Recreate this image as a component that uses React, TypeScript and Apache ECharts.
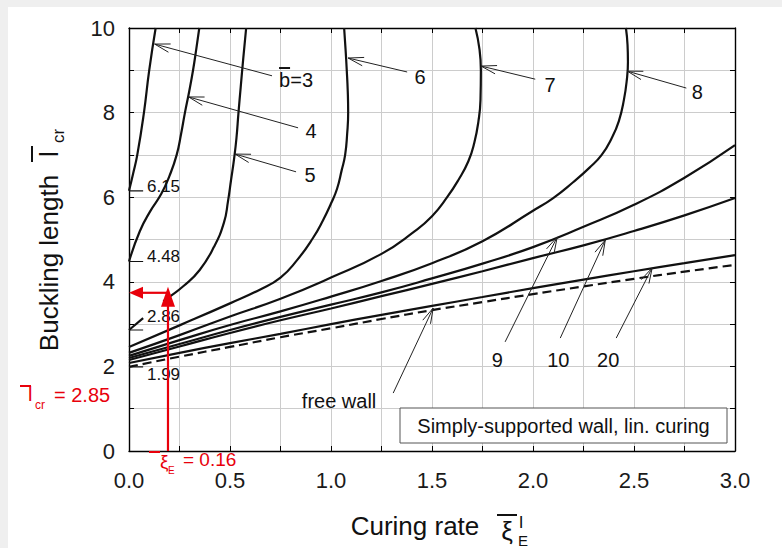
import React, { useEffect, useRef } from 'react';
import * as echarts from 'echarts';

const FONT = 'Arial, "Liberation Sans", Helvetica, sans-serif';

// x grid shared by the lower family of curves
const xLower = [0, 0.25, 0.5, 0.75, 1.0, 1.25, 1.5, 1.75, 2.0, 2.25, 2.5, 2.75, 3.0];
const yB9 = [2.2, 2.53, 2.86, 3.17, 3.46, 3.75, 4.08, 4.43, 4.82, 5.3, 5.82, 6.46, 7.23];
const yB10 = [2.15, 2.47, 2.79, 3.09, 3.37, 3.66, 3.95, 4.25, 4.56, 4.86, 5.2, 5.57, 5.98];
const yB20 = [2.08, 2.32, 2.55, 2.77, 3.0, 3.22, 3.43, 3.64, 3.85, 4.05, 4.25, 4.44, 4.63];
const yFree = [1.99, 2.23, 2.46, 2.69, 2.9, 3.12, 3.33, 3.52, 3.71, 3.89, 4.07, 4.24, 4.4];

// steep curves (x, y pairs)
const b3X = [0, 0.02, 0.041, 0.074, 0.1, 0.132];
const b3Y = [6.15, 6.55, 7.0, 8.0, 9.0, 10.0];
const b4X = [0, 0.054, 0.104, 0.16, 0.2, 0.236, 0.258, 0.277, 0.298, 0.317, 0.333, 0.348];
const b4Y = [4.48, 5.2, 5.66, 6.08, 6.5, 7.0, 7.5, 8.0, 8.5, 9.0, 9.5, 10.0];
const b5aX = [0, 0.07];
const b5aY = [2.86, 3.14];
const b5bX = [0.17, 0.193, 0.27, 0.35, 0.42, 0.47, 0.49, 0.505, 0.52, 0.532, 0.542, 0.553, 0.566, 0.58];
const b5bY = [3.54, 3.62, 3.9, 4.28, 4.82, 5.4, 5.9, 6.4, 6.9, 7.4, 8.0, 8.6, 9.3, 10.0];
const b6X = [0, 0.25, 0.5, 0.65, 0.75, 0.83, 0.91, 0.96, 1.0, 1.03, 1.053, 1.07, 1.08, 1.085, 1.083, 1.078, 1.072, 1.065];
const b6Y = [2.46, 2.97, 3.49, 3.82, 4.1, 4.5, 5.03, 5.45, 5.85, 6.2, 6.64, 7.0, 7.5, 8.0, 8.5, 9.0, 9.5, 10.0];
const b7X = [0, 0.25, 0.5, 0.75, 1.0, 1.25, 1.41, 1.5, 1.575, 1.63, 1.68, 1.71, 1.73, 1.74, 1.742, 1.735, 1.715];
const b7Y = [2.32, 2.74, 3.18, 3.6, 4.1, 4.66, 5.18, 5.55, 6.0, 6.4, 6.85, 7.3, 7.8, 8.3, 9.0, 9.5, 10.0];
const b8X = [0, 0.25, 0.5, 0.75, 1.0, 1.25, 1.5, 1.75, 2.0, 2.1, 2.2, 2.28, 2.34, 2.39, 2.425, 2.45, 2.465, 2.47, 2.468, 2.46];
const b8Y = [2.25, 2.62, 2.98, 3.3, 3.65, 4.02, 4.44, 4.96, 5.68, 5.98, 6.36, 6.7, 7.0, 7.4, 7.8, 8.3, 8.8, 9.2, 9.6, 10.0];

// tick labels
const xTickLabels = ['0.0', '0.5', '1.0', '1.5', '2.0', '2.5', '3.0'];
const yTickLabels = ['0', '2', '4', '6', '8', '10'];

// start values marked at x = 0
const startValues = [6.15, 4.48, 2.86, 1.99];
const startLabelY = [6.25, 4.59, 3.17, 1.8];

// read-off example (red)
const markXi = 0.193;
const markL = 3.74;
const markXiText = '0.16';
const markLText = '2.85';

// annotation arrows (data coords)
const annotLabels = ['b=3', '4', '5', '6', '7', '8', '9', '10', '20', 'free wall'];
const annotTips = [[0.127, 9.62], [0.295, 8.37], [0.525, 7.02], [1.085, 9.29], [1.743, 9.1], [2.467, 8.98], [2.12, 5.06], [2.358, 4.99], [2.59, 4.33], [1.506, 3.38]];
const annotTails = [[0.708, 8.87], [0.837, 7.64], [0.827, 6.6], [1.377, 8.96], [2.011, 8.79], [2.759, 8.58], [1.862, 2.58], [2.135, 2.67], [2.412, 2.67], [1.308, 1.37]];
const annotPos = [[0.827, 8.77], [0.901, 7.565], [0.896, 6.525], [1.441, 8.84], [2.085, 8.65], [2.813, 8.49], [1.823, 2.15], [2.125, 2.15], [2.372, 2.15], [1.04, 1.18]];

const zip = (xs: number[], ys: number[]) => xs.map((x, i) => [x, ys[i]]);

const curves = [
  { data: zip(b3X, b3Y) },
  { data: zip(b4X, b4Y) },
  { data: zip(b5aX, b5aY) },
  { data: zip(b5bX, b5bY) },
  { data: zip(b6X, b6Y) },
  { data: zip(b7X, b7Y) },
  { data: zip(b8X, b8Y) },
  { data: zip(xLower, yB9) },
  { data: zip(xLower, yB10) },
  { data: zip(xLower, yB20) },
  { data: zip(xLower, yFree), dashed: true },
];

const isHalf = (v: number) => Math.abs(v * 2 - Math.round(v * 2)) < 1e-6;

export default function App() {
  const ref = useRef<HTMLDivElement>(null);
  useEffect(() => {
    document.body.style.margin = '0';
    const chart = echarts.init(ref.current!, null, { renderer: 'svg' });
    const axisLine = { show: true, onZero: false, lineStyle: { color: '#000', width: 1.4 } };
    const tick = { show: true, inside: true, length: 5, lineStyle: { color: '#000', width: 1 } };
    const option: any = {
      animation: false,
      backgroundColor: '#ffffff',
      grid: { left: 129, top: 28, width: 606, height: 423, containLabel: false },
      xAxis: [
        {
          type: 'value', min: 0, max: 3, interval: 0.25, position: 'bottom',
          axisLine, axisTick: tick,
          axisLabel: {
            margin: 18, fontSize: 22, color: '#1a1a1a', fontFamily: FONT,
            formatter: (v: number) => (isHalf(v) ? xTickLabels[Math.round(v * 2)] : ''),
          },
          splitLine: { show: true, lineStyle: { color: '#cccccc', width: 1 } },
        },
        {
          type: 'value', min: 0, max: 3, interval: 0.25, position: 'top',
          axisLine, axisTick: tick, axisLabel: { show: false }, splitLine: { show: false },
        },
      ],
      yAxis: [
        {
          type: 'value', min: 0, max: 10, interval: 1, position: 'left',
          axisLine, axisTick: tick,
          axisLabel: {
            margin: 14, fontSize: 22, color: '#1a1a1a', fontFamily: FONT,
            formatter: (v: number) => (Math.round(v) % 2 === 0 ? yTickLabels[Math.round(v) / 2] : ''),
          },
          splitLine: { show: true, lineStyle: { color: '#cccccc', width: 1 } },
        },
        {
          type: 'value', min: 0, max: 10, interval: 1, position: 'right',
          axisLine, axisTick: tick, axisLabel: { show: false }, splitLine: { show: false },
        },
      ],
      series: [
        ...curves.map((c) => ({
          type: 'line',
          data: c.data,
          symbol: 'none',
          smooth: 0.5,
          silent: true,
          z: 3,
          lineStyle: { color: '#111', width: 2.2, type: c.dashed ? [9, 5] : 'solid' },
        })),
        ...startValues.map((v) => ({
          type: 'line',
          data: [[0, v], [0.07, v]],
          symbol: 'none',
          silent: true,
          z: 3,
          lineStyle: { color: '#111', width: 1.2 },
        })),
      ],
    };
    chart.setOption(option);

    const P = (p: number[]) => chart.convertToPixel({ xAxisIndex: 0, yAxisIndex: 0 }, p) as number[];
    const g: any[] = [];
    const txt = (x: number, y: number, text: string, size: number, extra: any = {}) => ({
      type: 'text', x, y, z: 20,
      rotation: extra.rotation || 0,
      style: {
        text, fontSize: size, fontFamily: FONT, fill: extra.fill || '#111',
        align: extra.align || 'center', verticalAlign: extra.va || 'middle',
        textAlign: extra.align || 'center', textVerticalAlign: extra.va || 'middle',
      },
    });
    const ln = (x1: number, y1: number, x2: number, y2: number, stroke: string, w: number) => ({
      type: 'line', z: 20, shape: { x1, y1, x2, y2 }, style: { stroke, lineWidth: w },
    });

    // outer gray frame bands
    g.push({ type: 'rect', z: -10, shape: { x: 0, y: 0, width: 782, height: 7 }, style: { fill: '#efefef' } });
    g.push({ type: 'rect', z: -10, shape: { x: 0, y: 0, width: 8, height: 548 }, style: { fill: '#efefef' } });

    // annotation arrows
    annotLabels.forEach((label, i) => {
      const tip = P(annotTips[i]);
      const tail = P(annotTails[i]);
      const dx = tail[0] - tip[0];
      const dy = tail[1] - tip[1];
      const L = Math.hypot(dx, dy);
      const ux = dx / L;
      const uy = dy / L;
      const wing = (a: number) => [tip[0] + 16 * (ux * Math.cos(a) - uy * Math.sin(a)), tip[1] + 16 * (ux * Math.sin(a) + uy * Math.cos(a))];
      g.push(ln(tip[0], tip[1], tail[0], tail[1], '#222', 1));
      g.push({ type: 'polyline', z: 20, shape: { points: [wing(0.27), [tip[0], tip[1]], wing(-0.27)] }, style: { stroke: '#222', lineWidth: 1, fill: null } });
      const lp = P(annotPos[i]);
      g.push(txt(lp[0], lp[1], label, 20));
      if (label === 'b=3') {
        g.push(ln(lp[0] - 17, lp[1] - 12, lp[0] - 6, lp[1] - 12, '#111', 2));
      }
    });

    // start value labels
    startValues.forEach((v, i) => {
      const p = P([0.089, startLabelY[i]]);
      g.push(txt(p[0], p[1], v.toFixed(2), 17, { align: 'left' }));
    });

    // box
    g.push({ type: 'rect', z: 20, shape: { x: 400, y: 408, width: 327, height: 35 }, style: { fill: '#fff', stroke: '#555', lineWidth: 1 } });
    g.push(txt(563.5, 426, 'Simply-supported wall, lin. curing', 20));

    // red read-off
    const red = '#e8000b';
    const base = P([markXi, 0]);
    const corner = P([markXi, markL]);
    const yAx = P([0, markL]);
    g.push(ln(base[0], base[1], corner[0], corner[1], red, 2.2));
    g.push(ln(corner[0], corner[1], yAx[0] + 12, corner[1], red, 2.2));
    g.push({ type: 'polygon', z: 21, shape: { points: [[corner[0], corner[1] - 6], [corner[0] - 7, corner[1] + 14], [corner[0] + 7, corner[1] + 14]] }, style: { fill: red } });
    g.push({ type: 'polygon', z: 21, shape: { points: [[yAx[0], yAx[1]], [yAx[0] + 14, yAx[1] - 6], [yAx[0] + 14, yAx[1] + 6]] }, style: { fill: red } });
    g.push(ln(149, 452, 160, 452, red, 2));
    g.push(txt(160, 461, 'ξ', 19, { align: 'left', fill: red }));
    g.push(txt(168, 470, 'E', 10, { align: 'left', fill: red }));
    g.push(txt(183, 459, '= ' + markXiText, 19, { align: 'left', fill: red }));
    g.push(ln(20, 386, 31, 386, red, 2));
    g.push(txt(28, 394, 'l', 20, { align: 'left', fill: red }));
    g.push(txt(35, 405, 'cr', 12, { align: 'left', fill: red }));
    g.push(txt(54, 395, '= ' + markLText, 20, { align: 'left', fill: red }));

    // y axis title
    g.push(txt(49, 263, 'Buckling length', 26, { rotation: Math.PI / 2 }));
    g.push(txt(49, 154, 'l', 26, { rotation: Math.PI / 2 }));
    g.push(txt(58, 136, 'cr', 17, { rotation: Math.PI / 2 }));
    g.push(ln(32, 146, 32, 162, '#111', 2));

    // x axis title
    g.push(txt(415, 526, 'Curing rate', 26));
    g.push(txt(507, 531, 'ξ', 26));
    g.push(ln(497, 515, 517, 515, '#111', 2));
    g.push(txt(521, 522, 'I', 17));
    g.push(txt(523, 540, 'E', 15));

    chart.setOption({ graphic: g });
    return () => chart.dispose();
  }, []);
  return <div ref={ref} style={{ width: 782, height: 548 }} />;
}
